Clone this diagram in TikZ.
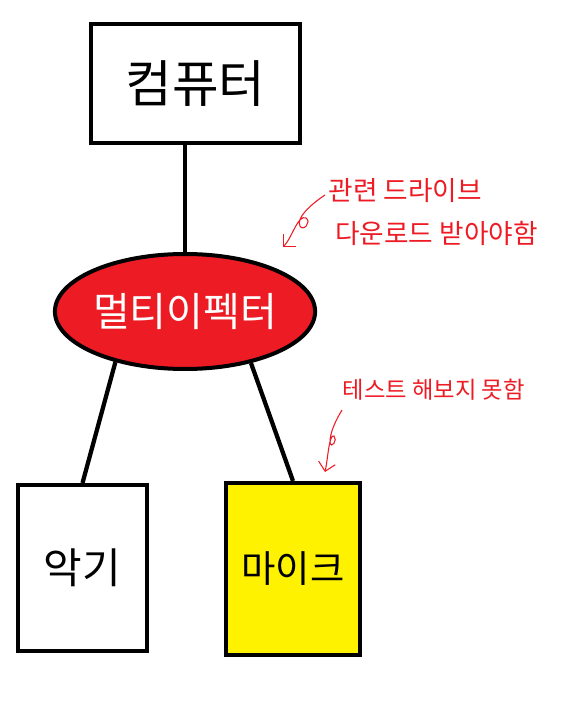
\documentclass[tikz,border=0pt]{standalone}
\usepackage{fontspec}
\usepackage{tikz}
\usetikzlibrary{shapes, arrows.meta, positioning}
\newfontfamily\kr{Noto Sans CJK KR}
\definecolor{paintred}{HTML}{ED1C24}
\definecolor{paintyellow}{HTML}{FFF200}
\tikzstyle{block} = [draw, fill=white, rectangle, line width=3pt, inner sep=0pt]
\tikzstyle{link} = [line width=3.2pt]
\tikzstyle{note} = [draw=paintred, line width=0.8pt, -{Straight Barb[angle=90:9pt]}]

\begin{document}
\begin{tikzpicture}[x=0.75pt, y=-0.75pt, >=latex, font=\kr]
    \useasboundingbox (0,0) rectangle (577,705);
    \node [block, minimum width=156.75pt, minimum height=89.25pt, font=\kr\fontsize{38}{42}\selectfont] (computer) at (195.5,83.5) {컴퓨터};
    \node [block, shape=ellipse, fill=paintred, text=white, minimum width=195pt, minimum height=86.25pt, font=\kr\fontsize{30}{34}\selectfont] (multi) at (185,311.5) {멀티이펙터};
    \node [block, minimum width=96.75pt, minimum height=124.5pt, font=\kr\fontsize{31.5}{35}\selectfont] (instrument) at (82.5,568) {악기};
    \node [block, fill=paintyellow, minimum width=100.5pt, minimum height=129pt, font=\kr\fontsize{28}{32}\selectfont] (mic) at (293,569) {마이크};
    \draw [link] (computer.south -| multi.north) -- (multi.north);
    \draw [link] (multi.216) -- (instrument.north);
    \draw [link] (multi.322) -- (mic.north);
    % red notes
    \node [text=paintred, align=left, anchor=west, font=\kr\fontsize{20}{32}\selectfont] (note1) at (324,212) {관련 드라이브\\\hspace{5pt}다운로드 받아야함};
    \node [text=paintred, anchor=west, font=\kr\fontsize{17.5}{20}\selectfont] (note2) at (338,390) {테스트 해보지 못함};
    \coordinate (n1a) at (325,195);
    \coordinate (n1b) at (283,247);
    \coordinate (n2a) at (342,410);
    \coordinate (n2b) at (325,472);
    \draw [note] (n1a) .. controls (310,205) and (296,218) .. (300,226)
        .. controls (303,232) and (312,222) .. (306,218)
        .. controls (298,214) and (292,238) .. (n1b);
    \draw [note] (n2a) .. controls (336,420) and (330,432) .. (330,442)
        .. controls (331,450) and (338,440) .. (334,436)
        .. controls (329,434) and (328,458) .. (n2b);
\end{tikzpicture}
\end{document}
